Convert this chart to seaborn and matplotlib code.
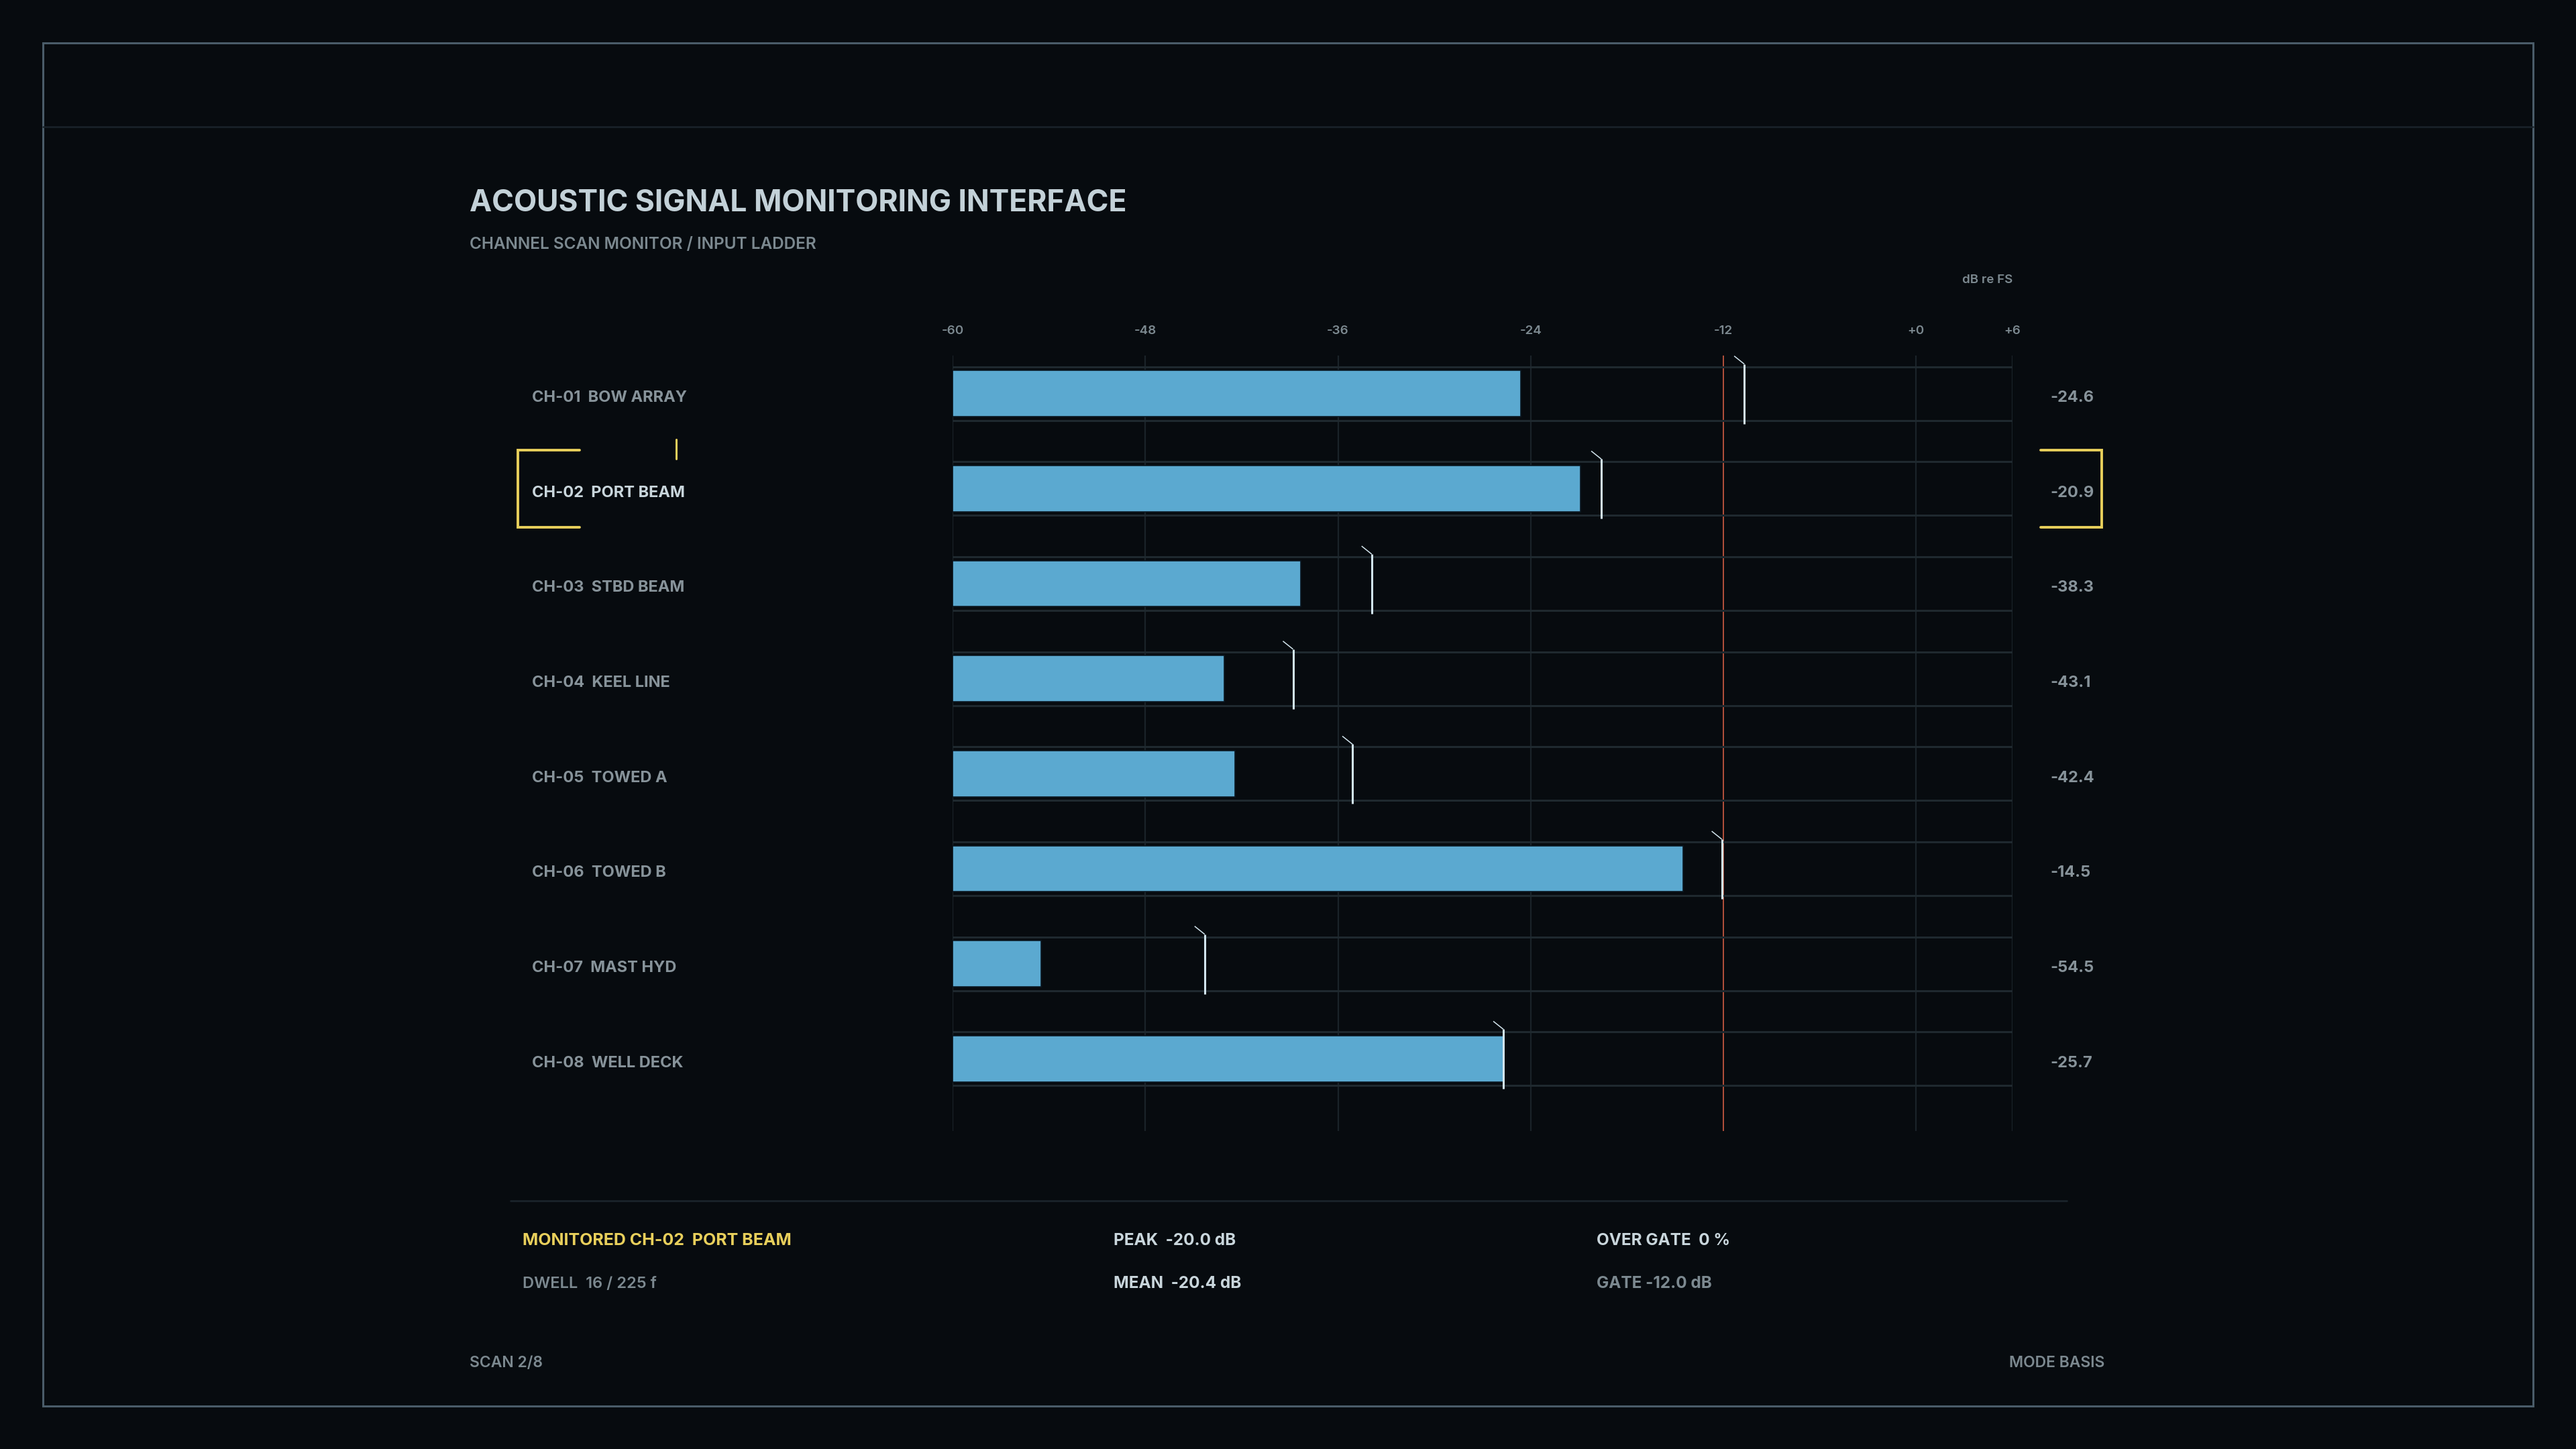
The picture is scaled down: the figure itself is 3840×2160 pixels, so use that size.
import matplotlib
matplotlib.use("Agg")
import matplotlib.pyplot as plt
import matplotlib.transforms as mtransforms
from matplotlib.patches import Rectangle
from matplotlib.lines import Line2D
import pandas as pd
import seaborn as sns

# Data
channel_ids = ["CH-01", "CH-02", "CH-03", "CH-04", "CH-05", "CH-06", "CH-07", "CH-08"]
channel_names = ["BOW ARRAY", "PORT BEAM", "STBD BEAM", "KEEL LINE",
                 "TOWED A", "TOWED B", "MAST HYD", "WELL DECK"]
level_db = [-24.6, -20.9, -38.3, -43.1, -42.4, -14.5, -54.5, -25.7]
peak_db = [-10.7, -19.6, -33.9, -38.8, -35.1, -12.1, -44.3, -25.7]
tick_db = [-60, -48, -36, -24, -12, 0, 6]
tick_labels = ["-60", "-48", "-36", "-24", "-12", "+0", "+6"]
FLOOR_DB = -60
CEIL_DB = 6
GATE_DB = -12
selected = 1

# Colours
BG = "#070b0f"
FRAME = "#4a5c69"
DIVIDER = "#1a232a"
TITLE = "#c3d1d8"
MUTED = "#7c8990"
LABEL = "#87939a"
LABEL_SEL = "#c9d6dc"
BAR = "#5ba9d0"
TRACK = "#1f292f"
GRID = "#1a2329"
GATE = "#b4503c"
PEAK = "#d2e5ee"
YELLOW = "#e8cf5b"

W, H = 3840, 2160


def fx(px):
    return px / W


def fy(py):
    return 1 - py / H


sns.set_theme(style="dark")
plt.rcParams["font.family"] = ["Inter", "DejaVu Sans"]

fig = plt.figure(figsize=(W / 100, H / 100), dpi=100, facecolor=BG)

# frame and header divider
fig.add_artist(Rectangle((fx(64), fy(2096)), fx(3776 - 64), (2096 - 64) / H,
                         fill=False, edgecolor=FRAME, linewidth=2.2,
                         transform=fig.transFigure))
fig.add_artist(Line2D([fx(64), fx(3776)], [fy(189), fy(189)], color=DIVIDER,
                      linewidth=1.8, transform=fig.transFigure))

# titles
fig.text(fx(700), fy(303), "ACOUSTIC SIGNAL MONITORING INTERFACE", color=TITLE,
         fontsize=32, fontweight="bold", va="center", ha="left")
fig.text(fx(700), fy(364), "CHANNEL SCAN MONITOR / INPUT LADDER", color=MUTED,
         fontsize=17.5, fontweight="semibold", va="center", ha="left")
fig.text(fx(3000), fy(417), "dB re FS", color=MUTED, fontsize=13.5,
         fontweight="semibold", va="center", ha="right")

# main ladder axes
ax = fig.add_axes([fx(1420), fy(1686), fx(3000 - 1420), (1686 - 530) / H])
ax.set_facecolor(BG)

df = pd.DataFrame({
    "channel": [f"{c}  {n}" for c, n in zip(channel_ids, channel_names)],
    "span": [v - FLOOR_DB for v in level_db],
})

for t in tick_db:
    if t != GATE_DB:
        ax.axvline(t - FLOOR_DB, color=GRID, linewidth=1.6, zorder=0.5)
ax.axvline(GATE_DB - FLOOR_DB, color=GATE, linewidth=1.4, zorder=0.6)

sns.barplot(data=df, x="span", y="channel", orient="h", color=BAR,
            saturation=1, width=0.486, edgecolor="#0b1822", linewidth=1.2,
            ax=ax, zorder=2)

span_max = CEIL_DB - FLOOR_DB
for i in range(len(level_db)):
    ax.hlines([i - 0.282, i + 0.282], 0, span_max, color=TRACK,
              linewidth=2.2, zorder=1.5)
    p = peak_db[i] - FLOOR_DB
    ax.vlines(p, i - 0.31, i + 0.317, color=PEAK, linewidth=2.2, zorder=3)
    ax.plot([p - 0.63, p], [i - 0.395, i - 0.31], color=PEAK,
            linewidth=1.1, zorder=3, solid_capstyle="butt")

ax.set_xlim(0, span_max)
ax.set_ylim(7.76, -0.40)
ax.set_xticks([t - FLOOR_DB for t in tick_db])
ax.set_xticklabels(tick_labels)
ax.xaxis.tick_top()
ax.tick_params(axis="x", length=0, pad=20, colors=MUTED, labelsize=13.5)
for lab in ax.get_xticklabels():
    lab.set_fontweight("semibold")
ax.tick_params(axis="y", left=False, labelleft=False)
ax.set_xlabel("")
ax.set_ylabel("")
for s in ax.spines.values():
    s.set_visible(False)
ax.grid(False)

# channel labels and values
left_tr = mtransforms.blended_transform_factory(fig.transFigure, ax.transData)
for i, (cid, name, val) in enumerate(zip(channel_ids, channel_names, level_db)):
    col = LABEL_SEL if i == selected else LABEL
    ax.text(fx(793), i + 0.045, f"{cid}  {name}", transform=left_tr, color=col,
            fontsize=17, fontweight="bold", va="center", ha="left")
    ax.text(fx(3056), i + 0.045, f"{val:.1f}", transform=left_tr, color=LABEL,
            fontsize=17, fontweight="bold", va="center", ha="left")

# selection brackets
r = selected
ax.plot([fx(864), fx(772), fx(772), fx(864)], [r - 0.408, r - 0.408, r + 0.408, r + 0.408],
        transform=left_tr, color=YELLOW, linewidth=2.8, clip_on=False,
        solid_joinstyle="miter")
ax.plot([fx(3042), fx(3133), fx(3133), fx(3042)], [r - 0.408, r - 0.408, r + 0.408, r + 0.408],
        transform=left_tr, color=YELLOW, linewidth=2.8, clip_on=False,
        solid_joinstyle="miter")
ax.plot([fx(1008), fx(1008)], [r - 0.52, r - 0.31], transform=left_tr,
        color=YELLOW, linewidth=2.2, clip_on=False)

# footer
fig.add_artist(Line2D([fx(761), fx(3081)], [fy(1790), fy(1790)], color=DIVIDER,
                      linewidth=2, transform=fig.transFigure))
mon = f"MONITORED {channel_ids[selected]}  {channel_names[selected]}"
fig.text(fx(779), fy(1849), mon, color=YELLOW, fontsize=18, fontweight="bold", va="center")
fig.text(fx(779), fy(1914), "DWELL  16 / 225 f", color=MUTED, fontsize=17,
         fontweight="semibold", va="center")
fig.text(fx(1660), fy(1849), "PEAK  -20.0 dB", color=LABEL_SEL, fontsize=17.5,
         fontweight="bold", va="center")
fig.text(fx(1660), fy(1914), "MEAN  -20.4 dB", color=LABEL_SEL, fontsize=17.5,
         fontweight="bold", va="center")
fig.text(fx(2380), fy(1849), "OVER GATE  0 %", color=LABEL_SEL, fontsize=17.5,
         fontweight="bold", va="center")
fig.text(fx(2380), fy(1914), f"GATE {GATE_DB:.1f} dB", color=MUTED, fontsize=17.5,
         fontweight="bold", va="center")
fig.text(fx(700), fy(2032), "SCAN 2/8", color=MUTED, fontsize=16.5,
         fontweight="semibold", va="center")
fig.text(fx(3137), fy(2032), "MODE BASIS", color=MUTED, fontsize=16.5,
         fontweight="semibold", va="center", ha="right")

fig.savefig("out.png", dpi=100, facecolor=BG)
